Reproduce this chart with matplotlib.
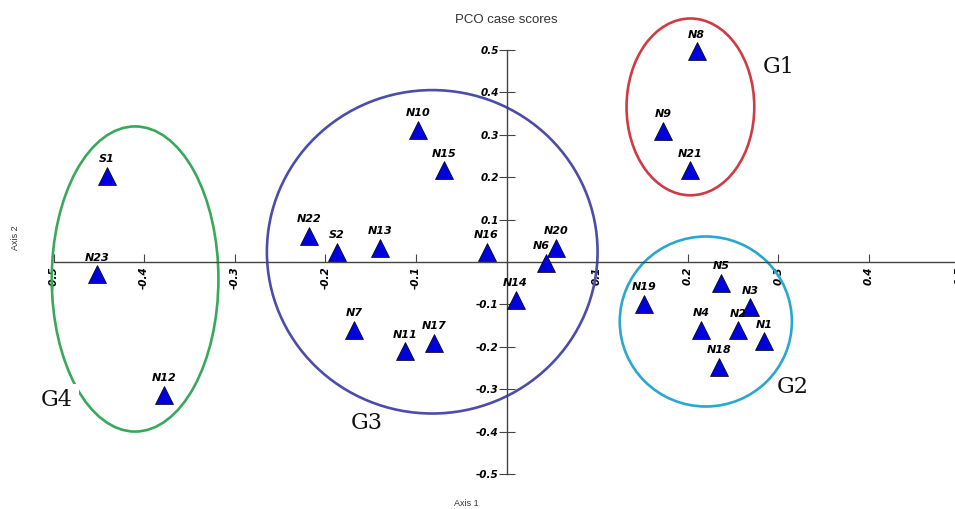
import matplotlib.pyplot as plt
from matplotlib.patches import Ellipse

# PCO case scores
names = ['S1', 'N23', 'N12', 'N22', 'S2', 'N13', 'N10', 'N15', 'N16', 'N7',
         'N11', 'N17', 'N14', 'N6', 'N20', 'N8', 'N9', 'N21', 'N19', 'N5',
         'N3', 'N4', 'N2', 'N1', 'N18']
axis1 = [-0.441, -0.452, -0.378, -0.218, -0.187, -0.140, -0.098, -0.069, -0.022, -0.168,
         -0.112, -0.080, 0.010, 0.044, 0.055, 0.210, 0.173, 0.203, 0.152, 0.237,
         0.269, 0.215, 0.256, 0.284, 0.235]
axis2 = [0.202, -0.029, -0.313, 0.061, 0.024, 0.033, 0.311, 0.216, 0.024, -0.159,
         -0.210, -0.190, -0.089, -0.002, 0.034, 0.496, 0.309, 0.216, -0.098, -0.049,
         -0.107, -0.160, -0.161, -0.187, -0.246]

# group ellipses: center x, center y, width, height
groups = ['G1', 'G2', 'G3', 'G4']
grp_cx = [0.203, 0.220, -0.082, -0.410]
grp_cy = [0.365, -0.140, 0.024, -0.040]
grp_w = [0.141, 0.190, 0.365, 0.184]
grp_h = [0.416, 0.400, 0.761, 0.718]
grp_colors = ['#cf3b44', '#2aa7cf', '#4c4caa', '#3aa85c']
grp_lx = [0.300, 0.316, -0.154, -0.496]
grp_ly = [0.460, -0.293, -0.378, -0.325]

ticks = [-0.5, -0.4, -0.3, -0.2, -0.1, 0.1, 0.2, 0.3, 0.4, 0.5]

fig = plt.figure(figsize=(9.55, 5.09), dpi=100)
ax = fig.add_axes([0, 0, 1.012, 1])
ax.set_xlim(-0.5591, 0.5077)
ax.set_ylim(-0.5812, 0.6165)

for s in ['top', 'right']:
    ax.spines[s].set_visible(False)
ax.spines['left'].set_position(('data', 0))
ax.spines['bottom'].set_position(('data', 0))
ax.spines['left'].set_bounds(-0.5, 0.5)
ax.spines['bottom'].set_bounds(-0.5, 0.5)
for s in ['left', 'bottom']:
    ax.spines[s].set_color('#444444')
    ax.spines[s].set_linewidth(1.0)

ax.set_xticks(ticks)
ax.set_yticks(ticks)
ax.set_xticklabels([f'{t:.1f}' for t in ticks], rotation=90, fontsize=7.5,
                   fontweight='bold', fontstyle='italic')
ax.set_yticklabels([f'{t:.1f}' for t in ticks], fontsize=7.5,
                   fontweight='bold', fontstyle='italic')
ax.tick_params(axis='x', direction='in', length=5.5, width=0.8, color='#444444', pad=3)
ax.tick_params(axis='y', direction='inout', length=11, width=0.8, color='#444444', pad=0)

for cx, cy, w, h, c in zip(grp_cx, grp_cy, grp_w, grp_h, grp_colors):
    ax.add_patch(Ellipse((cx, cy), w, h, fill=False, edgecolor=c, linewidth=1.9, zorder=2))

ax.plot(axis1, axis2, linestyle='none', marker='^', markersize=13,
        markerfacecolor='#0000dd', markeredgecolor='black', markeredgewidth=0.5, zorder=3)

for n, x, y in zip(names, axis1, axis2):
    dx = -4 if n == 'N6' else 0
    ax.annotate(n, (x, y), xytext=(dx, 12), textcoords='offset points',
                ha='center', va='center', fontsize=8, fontweight='bold',
                fontstyle='italic', zorder=4)

for g, x, y in zip(groups, grp_lx, grp_ly):
    bbox = None
    if g == 'G4':
        bbox = dict(facecolor='white', edgecolor='none', pad=4)
    ax.text(x, y, g, fontsize=16, family='DejaVu Serif', ha='center', va='center',
            color='#111111', bbox=bbox, zorder=5)

fig.text(506 / 955, 1 - 20 / 509, 'PCO case scores', ha='center', va='center',
         fontsize=9.5, family='Liberation Sans', color='#333333')
fig.text(466 / 955, 1 - 503 / 509, 'Axis 1', ha='center', va='center',
         fontsize=6.5, family='Liberation Sans', color='#333333')
fig.text(15 / 955, 1 - 238 / 509, 'Axis 2', ha='center', va='center', rotation=90,
         fontsize=6.5, family='Liberation Sans', color='#333333')

fig.savefig('out.png', dpi=100)
